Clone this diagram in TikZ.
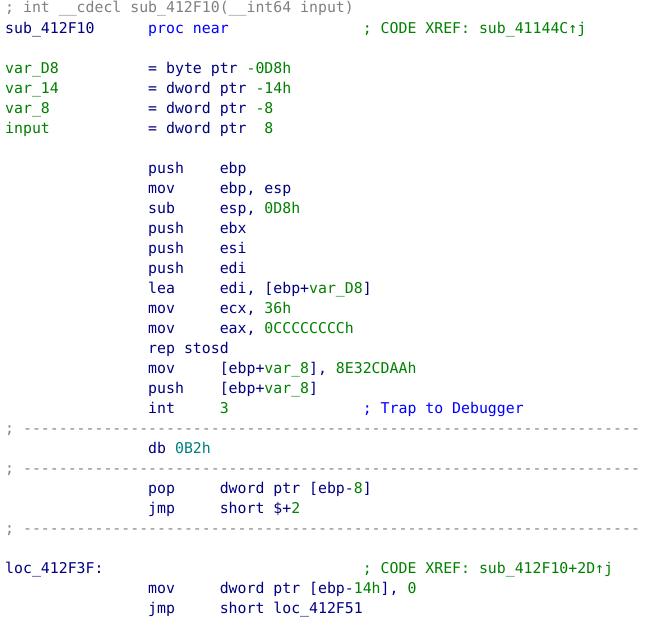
\documentclass[tikz,border=0pt]{standalone}
\usepackage{fontspec}
\newfontfamily\codefont{DejaVu Sans Mono}
\definecolor{navy}{HTML}{000080}
\definecolor{grn}{HTML}{008000}
\definecolor{gry}{HTML}{808080}
\definecolor{blu}{HTML}{0000FF}
\definecolor{tea}{HTML}{00807F}
\tikzset{
  code/.style={anchor=base west, inner sep=0pt, text=navy,
    font={\codefont\fontsize{14.85pt}{20pt}\selectfont}},
  num/.style={code, text=grn},
  note/.style={code, text=gry},
  xref/.style={code, text=grn},
  auto/.style={code, text=blu}
}
\newcommand{\g}[1]{\textcolor{grn}{#1}}
\begin{document}
\begin{tikzpicture}[x=8.94pt, y=-20pt]
  \fill[white] (-0.5593,-0.65) rectangle (71.588,30.4);
  \useasboundingbox (-0.5593,-0.65) rectangle (71.588,30.4);
  % header
  \node[note] (head) at (0,0) {; int \_\_cdecl sub\_412F10(\_\_int64 input)};
  \node[code] (proc) at (0,1) {sub\_412F10};
  \node[auto] (near) at (16,1) {proc near};
  \node[xref] (xref1) at (40,1) {; CODE XREF: sub\_41144C↑j};
  % stack variables
  \node[num] (vD8) at (0,3) {var\_D8};
  \node[code] (tD8) at (16,3) {= byte ptr};
  \node[num] (oD8) at (27,3) {-0D8h};
  \node[num] (v14) at (0,4) {var\_14};
  \node[code] (t14) at (16,4) {= dword ptr};
  \node[num] (o14) at (28,4) {-14h};
  \node[num] (v8) at (0,5) {var\_8};
  \node[code] (t8) at (16,5) {= dword ptr};
  \node[num] (o8) at (28,5) {-8};
  \node[num] (vin) at (0,6) {input};
  \node[code] (tin) at (16,6) {= dword ptr};
  \node[num] (oin) at (29,6) {8};
  % prologue
  \node[code] (op8) at (16,8) {push};
  \node[code] (ar8) at (24,8) {ebp};
  \node[code] (op9) at (16,9) {mov};
  \node[code] (ar9) at (24,9) {ebp, esp};
  \node[code] (op10) at (16,10) {sub};
  \node[code] (ar10) at (24,10) {esp, \g{0D8h}};
  \node[code] (op11) at (16,11) {push};
  \node[code] (ar11) at (24,11) {ebx};
  \node[code] (op12) at (16,12) {push};
  \node[code] (ar12) at (24,12) {esi};
  \node[code] (op13) at (16,13) {push};
  \node[code] (ar13) at (24,13) {edi};
  \node[code] (op14) at (16,14) {lea};
  \node[code] (ar14) at (24,14) {edi, [ebp+\g{var\_D8}]};
  \node[code] (op15) at (16,15) {mov};
  \node[code] (ar15) at (24,15) {ecx, \g{36h}};
  \node[code] (op16) at (16,16) {mov};
  \node[code] (ar16) at (24,16) {eax, \g{0CCCCCCCCh}};
  \node[code] (op17) at (16,17) {rep stosd};
  \node[code] (op18) at (16,18) {mov};
  \node[code] (ar18) at (24,18) {[ebp+\g{var\_8}], \g{8E32CDAAh}};
  \node[code] (op19) at (16,19) {push};
  \node[code] (ar19) at (24,19) {[ebp+\g{var\_8}]};
  \node[code] (op20) at (16,20) {int};
  \node[num] (ar20) at (24,20) {3};
  \node[auto] (trap) at (40,20) {; Trap to Debugger};
  % separators
  \foreach \r in {21,23,26} {
    \node[note] (sep\r) at (0,\r) {;};
    \foreach \c in {2,...,70}
      \node[note] (sep\r-\c) at (\c,\r) {-};
  }
  \node[code] (op22) at (16,22) {db \textcolor{tea}{0B2h}};
  \node[code] (op24) at (16,24) {pop};
  \node[code] (ar24) at (24,24) {dword ptr [ebp-\g{8}]};
  \node[code] (op25) at (16,25) {jmp};
  \node[code] (ar25) at (24,25) {short \$+\g{2}};
  % second block
  \node[code] (loc) at (0,28) {loc\_412F3F:};
  \node[xref] (xref2) at (40,28) {; CODE XREF: sub\_412F10+2D↑j};
  \node[code] (op29) at (16,29) {mov};
  \node[code] (ar29) at (24,29) {dword ptr [ebp-\g{14h}], \g{0}};
  \node[code] (op30) at (16,30) {jmp};
  \node[code] (ar30) at (24,30) {short loc\_412F51};
\end{tikzpicture}
\end{document}
